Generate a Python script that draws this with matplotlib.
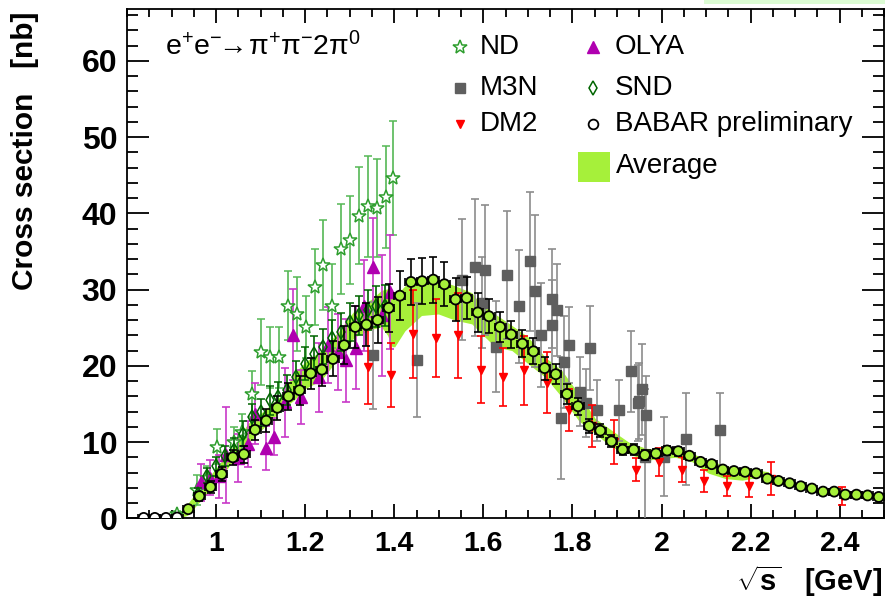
"""e+e- -> pi+ pi- 2pi0 cross section: world data vs BABAR preliminary, ROOT-style."""
import matplotlib

matplotlib.use("Agg")
import matplotlib.pyplot as plt
import numpy as np
from matplotlib.patches import Rectangle
from matplotlib.ticker import FixedLocator, FuncFormatter, MultipleLocator

# ---- data (sqrt(s) in GeV, cross section in nb) ----
BABAR_X = [0.8375, 0.8625, 0.8875, 0.9125, 0.9375, 0.9625, 0.9875, 1.0125, 1.0375, 1.0625,
           1.0875, 1.1125, 1.1375, 1.1625, 1.1875, 1.2125, 1.2375, 1.2625, 1.2875, 1.3125,
           1.3375, 1.3625, 1.3875, 1.4125, 1.4375, 1.4625, 1.4875, 1.5125, 1.5375, 1.5625,
           1.5875, 1.6125, 1.6375, 1.6625, 1.6875, 1.7125, 1.7375, 1.7625, 1.7875, 1.8125,
           1.8375, 1.8625, 1.8875, 1.9125, 1.9375, 1.9625, 1.9875, 2.0125, 2.0375, 2.0625,
           2.0875, 2.1125, 2.1375, 2.1625, 2.1875, 2.2125, 2.2375, 2.2625, 2.2875, 2.3125,
           2.3375, 2.3625, 2.3875, 2.4125, 2.4375, 2.4625, 2.4875]
BABAR_Y = [0.05, 0.05, 0.05, 0.1, 1.2, 2.9, 4.1, 5.8, 8.0, 8.4,
           11.6, 12.8, 14.5, 16.0, 16.8, 19.0, 19.5, 20.9, 22.7, 25.1,
           25.4, 26.0, 27.6, 29.2, 31.0, 31.1, 31.3, 30.7, 28.7, 28.9,
           27.0, 26.5, 25.1, 24.1, 22.9, 21.9, 19.7, 18.9, 16.3, 14.7,
           12.1, 11.5, 10.1, 9.0, 9.0, 8.3, 8.5, 8.9, 8.8, 8.2,
           7.4, 7.1, 6.4, 6.2, 6.1, 5.9, 5.2, 4.9, 4.6, 4.2,
           3.9, 3.5, 3.5, 3.1, 3.1, 3.0, 2.8]
BABAR_ERR = [0.1, 0.1, 0.1, 0.1, 0.4, 0.6, 0.8, 0.9, 1.0, 1.1,
             1.3, 1.5, 1.6, 1.8, 1.9, 2.0, 2.1, 2.3, 2.5, 2.7,
             2.8, 3.0, 3.1, 3.2, 3.0, 3.0, 3.0, 2.9, 2.8, 2.7,
             2.5, 2.2, 2.0, 1.8, 1.8, 1.7, 1.5, 1.3, 1.3, 1.1,
             0.9, 0.9, 0.8, 0.7, 0.7, 0.6, 0.6, 0.6, 0.6, 0.5,
             0.4, 0.3, 0.3, 0.3, 0.3, 0.3, 0.2, 0.2, 0.2, 0.2,
             0.2, 0.2, 0.2, 0.2, 0.2, 0.2, 0.2]
BABAR_BIN = 0.0125

AVG_X = [0.905, 0.92, 0.936, 0.959, 0.996, 1.034, 1.071, 1.109, 1.146, 1.175,
         1.20, 1.236, 1.275, 1.311, 1.35, 1.371, 1.385, 1.395, 1.401, 1.424,
         1.461, 1.499, 1.536, 1.574, 1.589, 1.626, 1.664, 1.70, 1.739, 1.776,
         1.814, 1.851, 1.889, 1.926, 1.964, 1.994, 2.031, 2.069, 2.106, 2.144,
         2.181, 2.219, 2.24]
AVG_LO = [0.0, 0.1, 0.4, 1.9, 4.3, 7.2, 9.8, 12.0, 14.2, 15.5,
          17.0, 18.1, 21.0, 23.8, 24.8, 25.1, 24.0, 22.5, 22.5, 24.6,
          26.6, 26.8, 26.0, 25.5, 24.6, 22.5, 22.0, 20.3, 18.5, 15.9,
          12.8, 11.1, 9.3, 8.5, 7.6, 7.8, 8.0, 7.4, 5.9, 5.2,
          5.0, 5.4, 5.6]
AVG_HI = [0.0, 0.9, 1.9, 3.7, 6.3, 9.1, 12.4, 14.2, 16.1, 19.0,
          20.5, 22.0, 24.5, 27.3, 28.8, 29.9, 30.1, 29.4, 29.0, 30.5,
          31.2, 31.3, 30.5, 29.6, 28.4, 26.8, 25.3, 23.8, 21.1, 19.4,
          16.3, 13.1, 11.5, 10.0, 9.2, 9.0, 9.3, 8.5, 7.6, 6.9,
          6.5, 6.3, 6.1]

ND_X = [0.912, 0.957, 0.980, 1.001, 1.040, 1.058, 1.080, 1.101, 1.121, 1.141, 1.161, 1.181,
        1.201, 1.221, 1.241, 1.261, 1.281, 1.301, 1.321, 1.342, 1.362, 1.382, 1.397]
ND_Y = [0.5, 3.7, 5.3, 9.4, 10.0, 11.3, 16.3, 21.8, 21.1, 21.1, 27.9, 26.8,
        25.1, 30.3, 33.2, 27.9, 35.3, 36.5, 39.7, 40.9, 40.7, 42.1, 44.6]
ND_ERR = [0.5, 2.0, 1.5, 2.3, 2.0, 2.4, 3.0, 4.3, 4.0, 4.0, 4.5, 4.9,
          4.1, 5.0, 5.9, 5.5, 5.9, 5.8, 6.4, 6.6, 6.4, 6.7, 7.5]

OLYA_X = [0.965, 0.986, 1.007, 1.022, 1.049, 1.071, 1.087, 1.111, 1.131, 1.154, 1.172,
          1.191, 1.231, 1.251, 1.273, 1.292, 1.313, 1.333, 1.353, 1.372, 1.391]
OLYA_Y = [4.7, 5.3, 5.5, 8.3, 7.9, 9.7, 13.7, 9.2, 10.7, 15.2, 24.1,
          15.9, 18.5, 22.7, 21.8, 20.7, 22.4, 27.9, 32.9, 26.6, 29.7]
OLYA_ERR = [2.4, 2.3, 2.8, 6.3, 3.2, 3.0, 4.0, 2.9, 2.4, 4.5, 6.0,
            3.5, 4.5, 5.0, 5.0, 5.5, 5.5, 6.0, 6.5, 8.0, 7.5]

SND_X = [0.96, 0.98, 1.00, 1.02, 1.04, 1.06, 1.08, 1.10, 1.12, 1.14, 1.16,
         1.18, 1.20, 1.22, 1.24, 1.26, 1.28, 1.30, 1.32, 1.34, 1.36, 1.38]
SND_Y = [3.2, 5.6, 6.8, 8.2, 9.0, 11.1, 13.3, 13.9, 15.5, 15.9, 16.8,
         18.5, 20.3, 21.6, 22.5, 23.6, 24.4, 25.7, 26.6, 27.3, 27.8, 27.9]
SND_ERR = [0.8, 1.0, 1.2, 1.3, 1.5, 1.6, 1.7, 1.8, 1.9, 2.0, 2.0,
           2.1, 2.2, 2.3, 2.3, 2.4, 2.5, 2.5, 2.6, 2.6, 2.7, 2.7]

M3N_X = [1.353, 1.452, 1.553, 1.582, 1.596, 1.604, 1.628, 1.654, 1.679, 1.705,
         1.715, 1.729, 1.754, 1.755, 1.766, 1.774, 1.780, 1.793, 1.816, 1.831,
         1.840, 1.855, 1.905, 1.931, 1.946, 1.950, 1.956, 1.962, 1.964, 2.005,
         2.055, 2.131]
M3N_Y = [21.4, 20.8, 31.3, 32.9, 28.3, 32.6, 22.5, 31.9, 27.8, 33.7,
         29.8, 24.0, 25.3, 28.8, 27.3, 13.1, 20.5, 22.7, 16.6, 15.1,
         22.3, 14.2, 14.2, 19.3, 15.1, 15.4, 16.9, 8.0, 13.6, 8.1,
         10.4, 11.6]
M3N_ERR = [7.0, 7.5, 7.9, 9.0, 6.0, 8.5, 6.0, 8.4, 7.4, 9.1,
           10.0, 6.8, 6.0, 6.5, 6.0, 8.0, 6.0, 5.0, 4.5, 4.5,
           5.5, 4.0, 4.0, 5.3, 5.0, 5.0, 6.0, 9.0, 5.0, 5.2,
           6.0, 4.8]

DM2_X = [1.342, 1.392, 1.443, 1.493, 1.542, 1.594, 1.643, 1.692, 1.742, 1.793,
         1.843, 1.894, 1.943, 1.995, 2.045, 2.095, 2.146, 2.196, 2.245, 2.406]
DM2_Y = [19.9, 18.8, 24.2, 23.6, 24.0, 19.5, 18.5, 19.4, 17.8, 14.2,
         12.1, 10.0, 6.4, 7.4, 6.4, 4.9, 4.2, 4.2, 5.2, 2.9]
DM2_ERR = [4.9, 4.2, 5.8, 5.1, 5.6, 4.4, 3.8, 4.5, 4.0, 2.8,
           2.7, 2.9, 1.5, 1.8, 1.6, 1.4, 1.3, 1.4, 2.2, 1.2]

X_TICKS = [1.0, 1.2, 1.4, 1.6, 1.8, 2.0, 2.2, 2.4]

LIME = "#a6f03a"
ND_C, ND_E = "#2e9e2e", "#55b855"
OLYA_C, OLYA_E = "#b000b0", "#c838c8"
SND_C = "#006400"
M3N_C, M3N_E = "#5f5f5f", "#8c8c8c"
DM2_C = "#ff0000"


def main() -> None:
    plt.rcParams.update({
        "font.family": "sans-serif", "font.sans-serif": ["Liberation Sans", "DejaVu Sans"],
        "mathtext.fontset": "custom", "mathtext.rm": "Liberation Sans",
        "mathtext.it": "Liberation Sans:italic", "mathtext.bf": "Liberation Sans:bold",
        "axes.linewidth": 1.3,
    })
    fig = plt.figure(figsize=(8.85, 6.03), dpi=100)
    ax = fig.add_axes([127 / 885, 84.7 / 603, 757.3 / 885, 509.3 / 603])

    ax.fill_between(AVG_X, AVG_LO, AVG_HI, color=LIME, lw=0, zorder=1)

    eb = dict(ls="none", elinewidth=1.2, capsize=3, capthick=1.2)
    ax.errorbar(ND_X, ND_Y, yerr=ND_ERR, fmt="*", ms=10, mfc="white", mec=ND_C, mew=1.1,
                ecolor=ND_E, zorder=3, **eb)
    ax.errorbar(OLYA_X, OLYA_Y, yerr=OLYA_ERR, fmt="^", ms=8, mfc=OLYA_C, mec=OLYA_C,
                ecolor=OLYA_E, zorder=3, **eb)
    ax.errorbar(M3N_X, M3N_Y, yerr=M3N_ERR, fmt="s", ms=6.5, mfc=M3N_C, mec=M3N_C,
                ecolor=M3N_E, zorder=3, **eb)
    ax.errorbar(DM2_X, DM2_Y, yerr=DM2_ERR, fmt="v", ms=6, mfc=DM2_C, mec=DM2_C,
                ecolor=DM2_C, zorder=4, **eb)
    ax.errorbar(SND_X, SND_Y, yerr=SND_ERR, fmt="d", ms=7, mfc="none", mec=SND_C, mew=1.1,
                ecolor=SND_C, zorder=4, **eb)
    ax.errorbar(BABAR_X, BABAR_Y, xerr=BABAR_BIN, yerr=BABAR_ERR, fmt="none",
                ecolor="k", zorder=5, **eb)
    face = np.where(np.array(BABAR_Y) > 0.5, LIME, "white")
    ax.scatter(BABAR_X, BABAR_Y, s=52, c=face, edgecolors="k", linewidths=1.3, zorder=6)

    ax.set_xlim(0.8, 2.5)
    ax.set_ylim(0, 66.8)
    ax.xaxis.set_major_locator(FixedLocator(X_TICKS))
    ax.xaxis.set_major_formatter(FuncFormatter(lambda v, _: f"{v:g}"))
    ax.xaxis.set_minor_locator(MultipleLocator(0.05))
    ax.yaxis.set_major_locator(MultipleLocator(10))
    ax.yaxis.set_minor_locator(MultipleLocator(2))
    ax.tick_params(which="both", direction="in", top=True, right=True, width=1.3)
    ax.tick_params(axis="x", which="major", length=10, pad=9, labelsize=20.5)
    ax.tick_params(axis="x", which="minor", length=5.5)
    ax.tick_params(axis="y", which="major", length=16, pad=7, labelsize=23)
    ax.tick_params(axis="y", which="minor", length=8)
    for lab in ax.get_xticklabels() + ax.get_yticklabels():
        lab.set_fontweight("bold")

    ax.text(-0.1347, 0.994, "Cross section   [nb]", transform=ax.transAxes, rotation=90,
            ha="center", va="top", fontsize=21.5, fontweight="bold")
    ax.text(0.997, -0.123, r"$\mathbf{\sqrt{s}}$   [GeV]", transform=ax.transAxes,
            ha="right", va="center", fontsize=21, fontweight="bold")
    ax.text(0.05, 0.925, r"$\mathregular{e^{+}e^{-}\!\!\rightarrow\!\pi^{+}\pi^{-}2\pi^{0}}$",
            transform=ax.transAxes, ha="left", va="center", fontsize=20.5)

    # legend, ROOT-style
    col1 = [("ND", "*", dict(ms=10, mfc="white", mec=ND_C, mew=1.1)),
            ("M3N", "s", dict(ms=6.5, mfc=M3N_C, mec=M3N_C)),
            ("DM2", "v", dict(ms=6, mfc=DM2_C, mec=DM2_C))]
    col2 = [("OLYA", "^", dict(ms=8, mfc=OLYA_C, mec=OLYA_C)),
            ("SND", "d", dict(ms=7, mfc="none", mec=SND_C, mew=1.1)),
            ("BABAR preliminary", "o", dict(ms=7, mfc="white", mec="k", mew=1.3))]
    rows = [0.925, 0.8457, 0.775]
    for (mx, tx), col in ((0.4397, 0.466), col1), ((0.6153, 0.644), col2):
        for yy, (name, mk, kw) in zip(rows, col):
            ax.plot([mx], [yy], mk, transform=ax.transAxes, clip_on=False, zorder=7, **kw)
            ax.text(tx, yy, name, transform=ax.transAxes, ha="left", va="center", fontsize=20)
    ax.add_patch(Rectangle((0.5955, 0.660), 0.0423, 0.059, transform=ax.transAxes,
                           color=LIME, lw=0, zorder=7))
    ax.text(0.6457, 0.6917, "Average", transform=ax.transAxes, ha="left", va="center",
            fontsize=20)

    fig.patches.append(Rectangle((704 / 885, 599 / 603), 181 / 885, 4 / 603,
                                 transform=fig.transFigure, color="#dcfcd4", lw=0))

    fig.savefig("out.png", dpi=100)


if __name__ == "__main__":
    main()
